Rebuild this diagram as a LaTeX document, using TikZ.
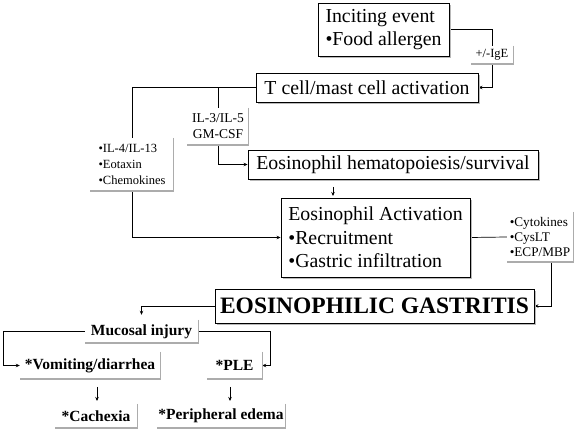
\documentclass[tikz,border=0pt]{standalone}
\usepackage{fontspec}
\setmainfont{Liberation Serif}
\usetikzlibrary{arrows.meta,shadows,backgrounds}
\begin{document}
\begin{tikzpicture}[x=1pt,y=-1pt,
  mainbox/.style={draw=black,line width=0.9pt,fill=white,inner sep=0pt,
    drop shadow={shadow xshift=2pt,shadow yshift=-2pt,fill=gray!55,opacity=1},
    font=\fontsize{19.8}{23.5}\selectfont,align=left},
  lblbox/.style={fill=white,inner sep=0pt,align=left},
  conn/.style={draw=black,line width=0.7pt},
  arr/.style={conn,-{Stealth[length=4pt,width=3.5pt]}},
  shline/.style={draw=gray!65,line width=1.4pt},
  botbox/.style={lblbox,font=\bfseries\fontsize{15.5}{17}\selectfont}
]
\useasboundingbox (0,0) rectangle (579,430);

% main boxes
\node[mainbox,minimum width=131pt,minimum height=53pt] (inc) at (383.5,29.5) {Inciting event\\•Food allergen};
\node[mainbox,minimum width=222pt,minimum height=29pt] (tcell) at (367,87.5) {T cell/mast cell activation};
\node[mainbox,minimum width=290pt,minimum height=29pt] (hema) at (393,164.5) {Eosinophil hematopoiesis/survival};
\node[mainbox,minimum width=189pt,minimum height=79pt] (act) at (375.5,237.5) {Eosinophil Activation\\•Recruitment\\•Gastric infiltration};
\node[mainbox,minimum width=319pt,minimum height=34pt,font=\bfseries\fontsize{23.5}{26}\selectfont] (eg) at (374.5,306) {EOSINOPHILIC GASTRITIS};

% label boxes
\node[lblbox,minimum width=42pt,minimum height=18pt,font=\fontsize{12.5}{14}\selectfont] (ige) at (492,55) {+/-IgE};
\node[lblbox,minimum width=61pt,minimum height=37pt,font=\fontsize{13.5}{16}\selectfont,align=center] (il3) at (218,126.5) {IL-3/IL-5\\GM-CSF};
\node[lblbox,minimum width=83pt,minimum height=53pt,font=\fontsize{12.5}{16}\selectfont] (il4) at (132,164.5) {•IL-4/IL-13\\•Eotaxin\\•Chemokines};
\node[lblbox,minimum width=66pt,minimum height=50pt,font=\fontsize{13.2}{15}\selectfont] (cyto) at (540,237) {•Cytokines\\•CysLT\\•ECP/MBP};

% bottom boxes
\node[botbox,minimum width=113pt,minimum height=23pt] (muc) at (141.5,331.5) {Mucosal injury};
\node[botbox,minimum width=140pt,minimum height=27pt] (vom) at (90,365.5) {*Vomiting/diarrhea};
\node[botbox,minimum width=55pt,minimum height=27pt] (ple) at (234.5,365.5) {*PLE};
\node[botbox,minimum width=82pt,minimum height=24pt] (cach) at (96,416) {*Cachexia};
\node[botbox,minimum width=128pt,minimum height=24pt] (peri) at (221,416) {*Peripheral edema};

\foreach \n in {ige,il3,il4,cyto,muc,vom,ple,cach,peri}
  \draw[shline] (\n.north east) -- (\n.south east) -- (\n.south west);

% free coordinates
\coordinate (h1) at (333,187);
\coordinate (h2) at (333,196);
\coordinate (c1) at (551,262);
\coordinate (m1) at (3,331.5);
\coordinate (m2) at (270,331.5);
\coordinate (v1) at (97,387);
\coordinate (v2) at (97,401);
\coordinate (p1) at (230,387);
\coordinate (p2) at (230,401);

\begin{scope}[on background layer]
\fill[white] (0,0) rectangle (579,430);
\draw[conn] (inc.east) -| (ige.north);
\draw[arr] (ige.south) |- (tcell.east);
\draw[conn] (tcell.west) -| (il4.north);
\draw[conn] (il3.north) -- (il3.north |- tcell.west);
\draw[arr] (il3.south) |- (hema.west);
\draw[arr] (il4.south) |- (act.west);
\draw[conn] (act.east) -- (cyto.west);
\draw[arr] (c1) |- (eg.east);
\draw[arr] (eg.west) -| ([yshift=5pt]muc.north);
\draw[arr] (muc.west) -- (m1) |- (vom.west);
\draw[arr] (muc.east) -- (m2) |- (ple.east);
\end{scope}
\draw[arr] (h1) -- (h2);
\draw[arr] (v1) -- (v2);
\draw[arr] (p1) -- (p2);
\end{tikzpicture}
\end{document}
